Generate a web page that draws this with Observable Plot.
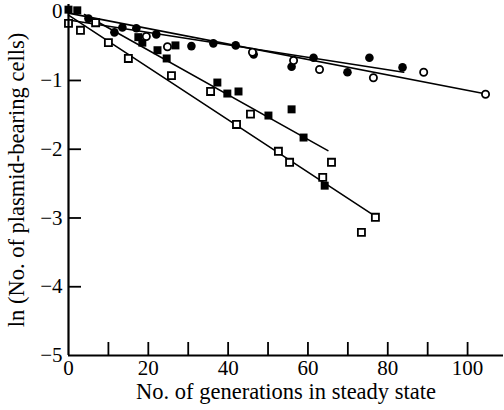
<!DOCTYPE html>
<html><head><meta charset="utf-8">
<script src="https://cdn.jsdelivr.net/npm/d3@7"></script>
<script src="https://cdn.jsdelivr.net/npm/@observablehq/plot@0.6"></script>
<style>body{margin:0;background:#fff}</style>
</head><body><div id="chart"></div>
<script>
// Filled circles
const fcGen = [5, 11.5, 13.5, 17, 22, 30.8, 36.3, 41.9, 46.4, 55.9, 61.4, 69.9, 75.4, 83.7];
const fcLn  = [-0.10, -0.30, -0.23, -0.24, -0.33, -0.50, -0.46, -0.49, -0.62, -0.80, -0.67, -0.88, -0.67, -0.81];
// Open circles
const ocGen = [19.5, 24.8, 46.1, 56.4, 62.9, 76.4, 89, 104.5];
const ocLn  = [-0.36, -0.51, -0.59, -0.71, -0.84, -0.96, -0.88, -1.20];
// Filled squares
const fsGen = [0, 2.2, 17.5, 18.5, 22.3, 24.6, 26.8, 37.3, 39.8, 42.6, 50.1, 55.9, 58.9, 64.2];
const fsLn  = [0.03, 0.02, -0.37, -0.45, -0.56, -0.68, -0.49, -1.03, -1.19, -1.16, -1.51, -1.42, -1.83, -2.53];
// Open squares
const osGen = [0, 3, 6.8, 10, 15, 25.8, 35.6, 42.1, 45.6, 52.6, 55.4, 63.7, 65.9, 73.4, 76.9];
const osLn  = [-0.17, -0.27, -0.16, -0.45, -0.68, -0.93, -1.16, -1.64, -1.49, -2.03, -2.19, -2.41, -2.19, -3.21, -2.99];
// Fitted lines (start and end of each)
const fitSeries = ["fc", "fc", "oc", "oc", "fs", "fs", "os", "os"];
const fitGen = [0, 84, 0, 105, 4, 65, 0, 77];
const fitLn  = [-0.12, -0.88, -0.02, -1.20, -0.04, -2.02, -0.05, -2.98];

const xTicks = [10, 20, 30, 40, 50, 60, 70, 80, 90, 100];
const xLabels = [0, 20, 40, 60, 80, 100];
const yTicks = [0, -1, -2, -3, -4, -5];

const pts = (g, l) => g.map((x, i) => ({x, y: l[i]}));
const fits = fitGen.map((x, i) => ({s: fitSeries[i], x, y: fitLn[i]}));

const chart = Plot.plot({
  width: 504, height: 410,
  marginLeft: 68, marginRight: 1, marginTop: 4, marginBottom: 55,
  style: {fontFamily: "Liberation Serif, Times New Roman, serif", fontSize: "21px", background: "#fff", color: "#000"},
  x: {domain: [0, 109]},
  y: {domain: [-5, 0.105]},
  marks: [
    Plot.line(fits, {x: "x", y: "y", z: "s", stroke: "#000", strokeWidth: 1.6}),
    Plot.dot(pts(fsGen, fsLn), {x: "x", y: "y", symbol: "square", r: 4.5, fill: "#000"}),
    Plot.dot(pts(fcGen, fcLn), {x: "x", y: "y", symbol: "circle", r: 4.3, fill: "#000"}),
    Plot.dot(pts(osGen, osLn), {x: "x", y: "y", symbol: "square", r: 4.0, fill: "#fff", stroke: "#000", strokeWidth: 1.8}),
    Plot.dot(pts(ocGen, ocLn), {x: "x", y: "y", symbol: "circle", r: 3.6, fill: "#fff", stroke: "#000", strokeWidth: 1.8}),
    Plot.ruleX([0], {stroke: "#000", strokeWidth: 2.2}),
    Plot.ruleY([-5], {stroke: "#000", strokeWidth: 2.2}),
    Plot.axisX({ticks: xTicks, tickSize: 13, dy: -13, tickFormat: () => "", strokeWidth: 1.8, label: null}),
    Plot.axisX({ticks: xLabels, tickSize: 0, tickPadding: 5, label: null}),
    Plot.axisY({ticks: yTicks.slice(1, 5), tickSize: 13, dx: 13, tickFormat: () => "", strokeWidth: 1.8, label: null}),
    Plot.axisY({ticks: yTicks, tickSize: 0, tickPadding: 6, tickFormat: d3.format("d"), label: null}),
    Plot.axisX({ticks: [], tickSize: 0, label: "No. of generations in steady state", labelAnchor: "center", labelArrow: "none", labelOffset: 43, fontSize: 22.5}),
    Plot.axisY({ticks: [], tickSize: 0, label: "ln (No. of plasmid-bearing cells)", labelAnchor: "center", labelArrow: "none", labelOffset: 60, fontSize: 22.5})
  ]
});
document.getElementById("chart").appendChild(chart);
</script>
</body></html>
